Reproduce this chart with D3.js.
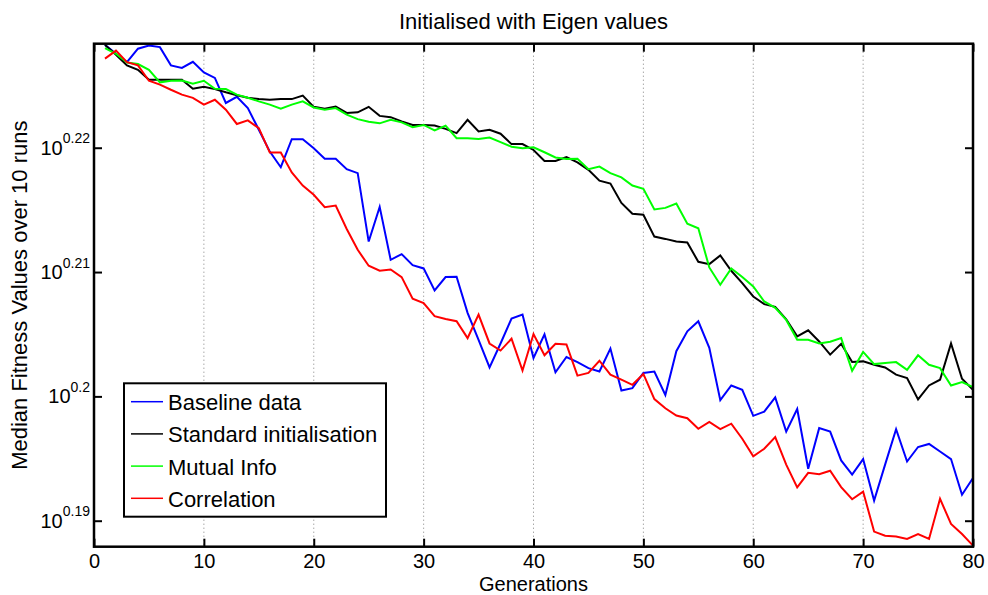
<!DOCTYPE html>
<html>
<head>
<meta charset="utf-8">
<script src="https://cdn.jsdelivr.net/npm/d3@7"></script>
<style>
  html, body { margin: 0; padding: 0; background: #fff; }
  svg { display: block; font-family: "Liberation Sans", Arial, Helvetica, sans-serif; }
</style>
</head>
<body>
<svg id="chart" width="988" height="595"></svg>
<script>
// Generation numbers (x categories)
const generations = Array.from({ length: 80 }, (_, i) => i + 1);

// Median fitness over 10 runs, one value per generation
const baseline = [
  1.6915, 1.6887, 1.6861, 1.6903, 1.6913, 1.6908, 1.6851, 1.6843, 1.6862, 1.6829,
  1.6812, 1.6734, 1.6753, 1.6718, 1.6651, 1.6584, 1.6536, 1.6622, 1.6622, 1.6594,
  1.6562, 1.6562, 1.6530, 1.6518, 1.6310, 1.6415, 1.6255, 1.6272, 1.6239, 1.6229,
  1.6163, 1.6203, 1.6204, 1.6096, 1.6016, 1.5934, 1.6005, 1.6079, 1.6091, 1.5962,
  1.6032, 1.5920, 1.5965, 1.5950, 1.5932, 1.5922, 1.5990, 1.5866, 1.5873, 1.5918,
  1.5922, 1.5853, 1.5982, 1.6041, 1.6071, 1.5992, 1.5838, 1.5881, 1.5868, 1.5792,
  1.5804, 1.5846, 1.5746, 1.5812, 1.5638, 1.5756, 1.5746, 1.5662, 1.5621, 1.5666,
  1.5546, 1.5650, 1.5753, 1.5659, 1.5701, 1.5710, 1.5688, 1.5666, 1.5563, 1.5611
];
const standardInit = [
  1.6915, 1.6884, 1.6851, 1.6837, 1.6806, 1.6806, 1.6806, 1.6806, 1.6778, 1.6784,
  1.6777, 1.6767, 1.6758, 1.6750, 1.6746, 1.6744, 1.6746, 1.6746, 1.6757, 1.6722,
  1.6716, 1.6723, 1.6703, 1.6705, 1.6722, 1.6694, 1.6690, 1.6677, 1.6666, 1.6666,
  1.6664, 1.6654, 1.6641, 1.6682, 1.6646, 1.6651, 1.6639, 1.6607, 1.6607, 1.6589,
  1.6555, 1.6555, 1.6567, 1.6551, 1.6528, 1.6495, 1.6486, 1.6427, 1.6394, 1.6391,
  1.6325, 1.6318, 1.6310, 1.6307, 1.6249, 1.6242, 1.6268, 1.6222, 1.6185, 1.6145,
  1.6122, 1.6114, 1.6077, 1.6026, 1.6044, 1.6011, 1.5972, 1.6004, 1.5950, 1.5952,
  1.5942, 1.5934, 1.5913, 1.5903, 1.5840, 1.5881, 1.5898, 1.6005, 1.5901, 1.5868
];
const mutualInfo = [
  1.6905, 1.6887, 1.6860, 1.6855, 1.6837, 1.6798, 1.6803, 1.6804, 1.6794, 1.6803,
  1.6778, 1.6777, 1.6760, 1.6750, 1.6739, 1.6729, 1.6716, 1.6729, 1.6739, 1.6720,
  1.6713, 1.6718, 1.6698, 1.6684, 1.6676, 1.6671, 1.6682, 1.6674, 1.6659, 1.6666,
  1.6649, 1.6664, 1.6625, 1.6625, 1.6623, 1.6627, 1.6613, 1.6599, 1.6594, 1.6597,
  1.6582, 1.6566, 1.6561, 1.6562, 1.6530, 1.6538, 1.6518, 1.6505, 1.6480, 1.6470,
  1.6407, 1.6412, 1.6425, 1.6364, 1.6350, 1.6232, 1.6180, 1.6229, 1.6203, 1.6175,
  1.6130, 1.6111, 1.6075, 1.6016, 1.6016, 1.6005, 1.6010, 1.6021, 1.5924, 1.5980,
  1.5944, 1.5947, 1.5950, 1.5927, 1.5970, 1.5942, 1.5932, 1.5881, 1.5891, 1.5876
];
const correlation = [
  1.6872, 1.6897, 1.6861, 1.6851, 1.6803, 1.6791, 1.6775, 1.6760, 1.6750, 1.6729,
  1.6744, 1.6713, 1.6669, 1.6680, 1.6656, 1.6581, 1.6581, 1.6520, 1.6480, 1.6452,
  1.6414, 1.6419, 1.6348, 1.6285, 1.6237, 1.6222, 1.6226, 1.6203, 1.6138, 1.6125,
  1.6086, 1.6078, 1.6071, 1.6021, 1.6091, 1.6005, 1.5984, 1.6019, 1.5925, 1.6033,
  1.5970, 1.6004, 1.6002, 1.5910, 1.5918, 1.5954, 1.5913, 1.5898, 1.5883, 1.5915,
  1.5841, 1.5814, 1.5793, 1.5785, 1.5754, 1.5774, 1.5753, 1.5769, 1.5725, 1.5674,
  1.5696, 1.5730, 1.5650, 1.5584, 1.5626, 1.5622, 1.5632, 1.5585, 1.5550, 1.5572,
  1.5457, 1.5445, 1.5443, 1.5436, 1.5450, 1.5436, 1.5551, 1.5479, 1.5450, 1.5417
];

const seriesNames = ["Baseline data", "Standard initialisation", "Mutual Info", "Correlation"];
const seriesColors = ["#0000ff", "#000000", "#00ff00", "#ff0000"];
const seriesValues = [baseline, standardInit, mutualInfo, correlation];

// Axis ticks
const xTicks = [0, 10, 20, 30, 40, 50, 60, 70, 80];
const yTickExponents = ["0.19", "0.2", "0.21", "0.22"];
const yTickValues = [1.548817, 1.584893, 1.621810, 1.659587];

const svg = d3.select("#chart");
const plotLeft = 94, plotRight = 973, plotTop = 43.7, plotBottom = 546.7;

const x = d3.scaleLinear().domain([0, 80]).range([plotLeft, plotRight]);
const y = d3.scaleLog().domain([1.54138, 1.69187]).range([plotBottom, plotTop]);

// Dotted vertical grid
svg.append("g")
  .selectAll("line")
  .data(xTicks.filter(t => t > 0 && t < 80))
  .join("line")
  .attr("x1", d => x(d)).attr("x2", d => x(d))
  .attr("y1", plotTop).attr("y2", plotBottom)
  .attr("stroke", "#808080")
  .attr("stroke-width", 1)
  .attr("stroke-dasharray", "1,3");

// Series lines
svg.append("clipPath").attr("id", "plotClip")
  .append("rect").attr("x", plotLeft).attr("y", plotTop - 2)
  .attr("width", plotRight - plotLeft).attr("height", plotBottom - plotTop + 4);

const line = d3.line()
  .x((d, i) => x(generations[i]))
  .y(d => y(d));

svg.append("g").attr("clip-path", "url(#plotClip)")
  .selectAll("path")
  .data(seriesValues)
  .join("path")
  .attr("d", d => line(d))
  .attr("fill", "none")
  .attr("stroke", (d, i) => seriesColors[i])
  .attr("stroke-width", 2)
  .attr("stroke-linejoin", "miter");

// Axes with inward ticks
function styleAxis(g) {
  g.select(".domain").remove();
  g.selectAll(".tick line").attr("stroke", "#000").attr("stroke-width", 2);
}

const xAxisBottom = svg.append("g")
  .attr("transform", `translate(0,${plotBottom})`)
  .call(d3.axisBottom(x).tickValues(xTicks).tickSize(-8).tickPadding(7).tickFormat(d3.format("d")));
styleAxis(xAxisBottom);
xAxisBottom.selectAll("text")
  .attr("fill", "#000")
  .style("font-size", "20px")
  .style("font-family", "'Liberation Sans', Arial, Helvetica, sans-serif");

const xAxisTop = svg.append("g")
  .attr("transform", `translate(0,${plotTop})`)
  .call(d3.axisTop(x).tickValues(xTicks).tickSize(-8).tickFormat(""));
styleAxis(xAxisTop);

const yAxisLeft = svg.append("g")
  .attr("transform", `translate(${plotLeft},0)`)
  .call(d3.axisLeft(y).tickValues(yTickValues).tickSize(-8).tickFormat(""));
styleAxis(yAxisLeft);
yAxisLeft.selectAll(".tick").each(function (d, i) {
  const t = d3.select(this).append("text")
    .attr("x", -4).attr("y", 6.5)
    .attr("text-anchor", "end")
    .attr("fill", "#000")
    .style("font-size", "20px")
    .style("font-family", "'Liberation Sans', Arial, Helvetica, sans-serif");
  t.append("tspan").text("10");
  t.append("tspan").attr("dy", -11.5).style("font-size", "14px").text(yTickExponents[i]);
});

const yAxisRight = svg.append("g")
  .attr("transform", `translate(${plotRight},0)`)
  .call(d3.axisRight(y).tickValues(yTickValues).tickSize(-8).tickFormat(""));
styleAxis(yAxisRight);

// Axes frame
svg.append("rect")
  .attr("x", plotLeft).attr("y", plotTop)
  .attr("width", plotRight - plotLeft).attr("height", plotBottom - plotTop)
  .attr("fill", "none").attr("stroke", "#000").attr("stroke-width", 2.5);

// Title and axis labels
svg.append("text")
  .attr("x", (plotLeft + plotRight) / 2).attr("y", 29)
  .attr("text-anchor", "middle")
  .style("font-size", "22px")
  .text("Initialised with Eigen values");

svg.append("text")
  .attr("x", (plotLeft + plotRight) / 2).attr("y", 590.6)
  .attr("text-anchor", "middle")
  .style("font-size", "20px")
  .text("Generations");

svg.append("text")
  .attr("transform", `translate(27,${(plotTop + plotBottom) / 2}) rotate(-90)`)
  .attr("text-anchor", "middle")
  .style("font-size", "22px")
  .text("Median Fitness Values over 10 runs");

// Legend
const legend = svg.append("g");
legend.append("rect")
  .attr("x", 124).attr("y", 383.3)
  .attr("width", 262).attr("height", 133.4)
  .attr("fill", "#fff").attr("stroke", "#000").attr("stroke-width", 2);

const rows = legend.selectAll("g.row")
  .data(seriesNames)
  .join("g")
  .attr("class", "row")
  .attr("transform", (d, i) => `translate(0,${401.7 + i * 32.2})`);
rows.append("line")
  .attr("x1", 131).attr("x2", 163)
  .attr("y1", 0).attr("y2", 0)
  .attr("stroke", (d, i) => seriesColors[i])
  .attr("stroke-width", 1.5);
rows.append("text")
  .attr("x", 168).attr("y", 8.5)
  .style("font-size", "22px")
  .text(d => d);
</script>
</body>
</html>
